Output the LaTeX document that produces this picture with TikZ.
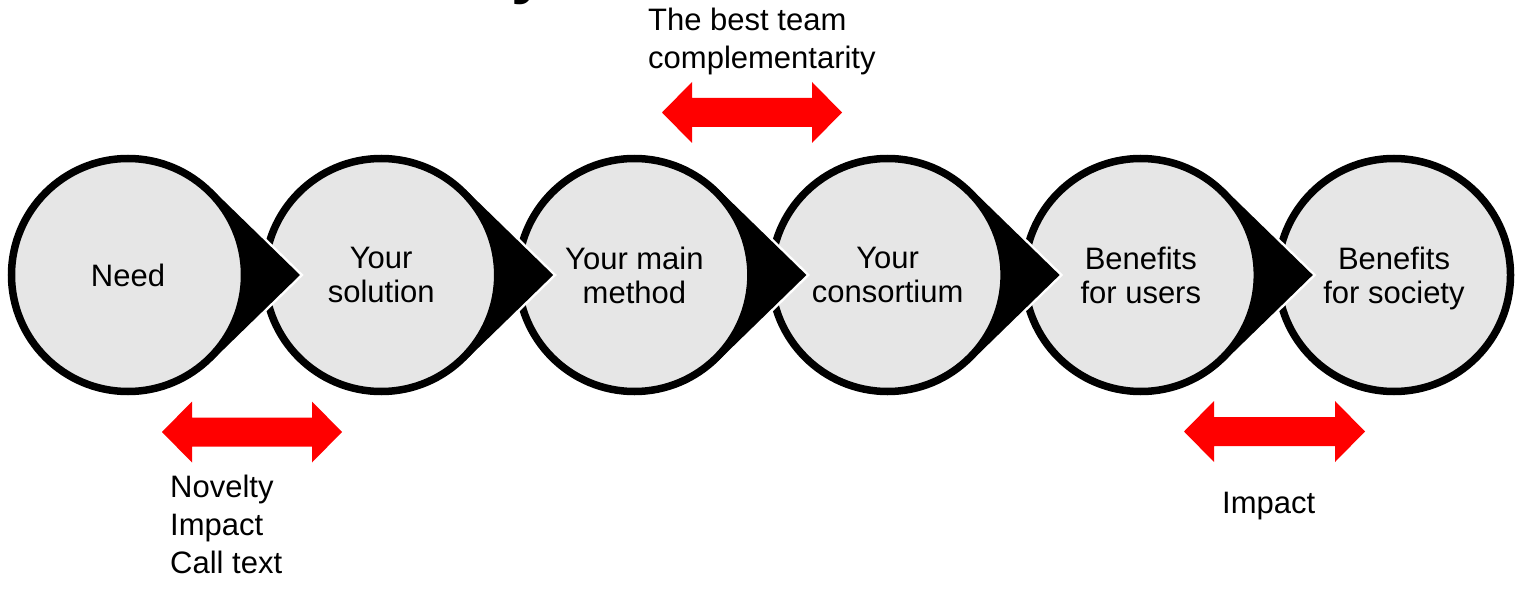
\documentclass[tikz,border=0pt]{standalone}
\usepackage{fontspec}
\setmainfont{Liberation Sans}
\usetikzlibrary{calc}
\definecolor{bubgray}{HTML}{E6E6E6}
\definecolor{arrred}{HTML}{FF0000}
\newcommand\redarr[3]{%
  \fill[arrred] (#1,#3) -- (#1+30,#3-30.5) -- (#1+30,#3-14.5) -- (#2-30,#3-14.5)
    -- (#2-30,#3-30.5) -- (#2,#3) -- (#2-30,#3+30.5) -- (#2-30,#3+14.5)
    -- (#1+30,#3+14.5) -- (#1+30,#3+30.5) -- cycle;}
\newcommand\tiptri[2]{%
  \path[fill=black, preaction={draw=white, line width=5pt, line join=miter}]
    ($(#1)+(45.77:120)$) -- (#2) -- ($(#1)+(-45.77:120)$) -- cycle;}
\begin{document}
\begin{tikzpicture}[x=1pt,y=-1pt,
  bub/.style={circle, draw=black, fill=bubgray, line width=7.5pt,
    minimum size=233pt, inner sep=0pt, align=center,
    font=\fontsize{31}{34}\selectfont},
  lbl/.style={font=\fontsize{31}{38}\selectfont, align=left, inner sep=0pt}]
\useasboundingbox (0,0) rectangle (1519,591);
% title fragment (cut off at the top)
\begin{scope}
\clip (0,0) rectangle (1519,591);
\node[font=\fontsize{64}{64}\selectfont\bfseries, inner sep=0pt, anchor=base west] (ttl) at (511,-8.5) {y};
\end{scope}
% centres and tips
\coordinate (p1) at (128,275);
\coordinate (p2) at (381.2,275);
\coordinate (p3) at (634.4,275);
\coordinate (p4) at (887.6,275);
\coordinate (p5) at (1140.8,275);
\coordinate (p6) at (1394,275);
\coordinate (t1) at (300,275);
\coordinate (t2) at (553.2,275);
\coordinate (t3) at (806.4,275);
\coordinate (t4) at (1059.6,275);
\coordinate (t5) at (1312.8,275);
% bubbles, drawn right to left so each tip lies over the next bubble
\node[bub] (c6) at (p6) {Benefits\\for societ\smash{y}};
\tiptri{p5}{t5}
\node[bub] (c5) at (p5) {Benefits\\for users};
\tiptri{p4}{t4}
\node[bub] (c4) at (p4) {Your\\consortium};
\tiptri{p3}{t3}
\node[bub] (c3) at (p3) {Your main\\method};
\tiptri{p2}{t2}
\node[bub] (c2) at (p2) {Your\\solution};
\tiptri{p1}{t1}
\node[bub] (c1) at (p1) {Need};
% red double arrows
\redarr{662}{842}{112.5}
\redarr{162}{342}{432}
\redarr{1184}{1365}{431.5}
% labels
\node[lbl, anchor=north west] (lteam) at (648,8) {The best team\\complementarity};
\node[lbl, anchor=north west] (lnov) at (170,475) {Novelty\\Impact\\Call text};
\node[lbl, anchor=north west] (limp) at (1222,492) {Impact};
\end{tikzpicture}
\end{document}
